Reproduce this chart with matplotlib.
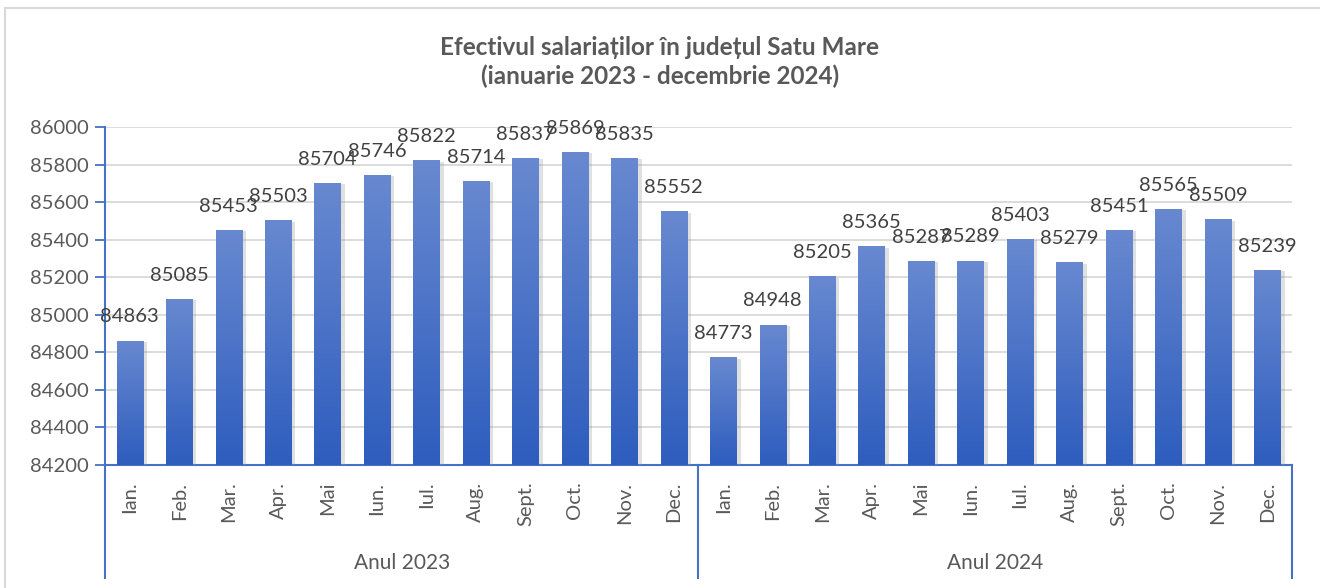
import numpy as np
import matplotlib
matplotlib.use('Agg')
import matplotlib.pyplot as plt
import matplotlib.patheffects as pe
from matplotlib.colors import LinearSegmentedColormap
from matplotlib.patches import Rectangle

# data
months = ['Ian.', 'Feb.', 'Mar.', 'Apr.', 'Mai', 'Iun.', 'Iul.', 'Aug.', 'Sept.', 'Oct.', 'Nov.', 'Dec.']
years = ['Anul 2023', 'Anul 2024']
values_2023 = [84863, 85085, 85453, 85503, 85704, 85746, 85822, 85714, 85837, 85869, 85835, 85552]
values_2024 = [84773, 84948, 85205, 85365, 85287, 85289, 85403, 85279, 85451, 85565, 85509, 85239]
title = 'Efectivul salariaților în județul Satu Mare\n(ianuarie 2023 - decembrie 2024)'

YMIN, YMAX, YSTEP = 84200, 86000, 200

plt.rcParams['font.family'] = ['Lato', 'DejaVu Sans']

values = values_2023 + values_2024
labels = months + months
x = np.arange(len(values))

fig = plt.figure(figsize=(13.2, 5.88), dpi=100)
fig.patches.append(Rectangle((5 / 1320, -0.05), 1.2, (580 / 588) + 0.05, transform=fig.transFigure,
                             fill=False, edgecolor='#D9D9D9', linewidth=1.5))
ax = fig.add_axes([105 / 1320, 123 / 588, (1292 - 105) / 1320, (465 - 127) / 588])

blue = '#4472C4'
bars = ax.bar(x, np.array(values) - YMIN, bottom=YMIN, width=0.53, color=blue, zorder=3,
              path_effects=[pe.SimplePatchShadow(offset=(3, -1), shadow_rgbFace='#999999', alpha=0.3),
                            pe.Normal()])

# gradient fill per bar
cmap = LinearSegmentedColormap.from_list('g', ['#2E5DBE', '#6889D0'])
grad = np.linspace(0, 1, 256).reshape(-1, 1)
for b in bars:
    x0, y0 = b.get_x(), b.get_y()
    w, h = b.get_width(), b.get_height()
    im = ax.imshow(grad, cmap=cmap, origin='lower', aspect='auto',
                   extent=(x0, x0 + w, y0, y0 + h), zorder=4)
    im.set_clip_path(b)

for xi, v in zip(x, values):
    ax.annotate(str(v), (xi, v), xytext=(0, 13), textcoords='offset points',
                ha='center', va='baseline', fontsize=14.5, color='#404040', zorder=6)

ax.set_xlim(-0.5, len(values) - 0.5)
ax.set_ylim(YMIN, YMAX)
ax.set_yticks(np.arange(YMIN, YMAX + 1, YSTEP))
ax.tick_params(axis='y', colors=blue, length=7, width=1.3, labelcolor='#595959', labelsize=14.5, pad=5)
ax.set_xticks(x)
ax.set_xticklabels(labels, rotation=90, fontsize=14.5, color='#595959', va='top')
ax.tick_params(axis='x', length=0, pad=12)

ax.grid(axis='y', color='#D9D9D9', linewidth=1.3, zorder=0)
ax.set_axisbelow(True)
for s in ['top', 'right']:
    ax.spines[s].set_visible(False)
ax.spines['left'].set_color(blue)
ax.spines['left'].set_linewidth(1.5)
ax.spines['bottom'].set_color(blue)
ax.spines['bottom'].set_linewidth(1.5)

# group separators and year labels
depth = (578 - 465) / 338
for xs in [-0.5, 11.5, 23.5]:
    ax.plot([xs, xs], [0, -depth], transform=ax.get_xaxis_transform(), color=blue,
            linewidth=1.5, clip_on=False)
for i, yl in enumerate(years):
    ax.text(5.5 + 12 * i, -(563 - 465) / 338, yl, transform=ax.get_xaxis_transform(),
            ha='center', va='center', fontsize=15, color='#595959')

fig.text(0.5, 1 - 62 / 588, title, ha='center', va='center', fontsize=17.5, fontweight='bold',
         color='#595959', linespacing=1.25)

fig.savefig('out.png', dpi=100)
